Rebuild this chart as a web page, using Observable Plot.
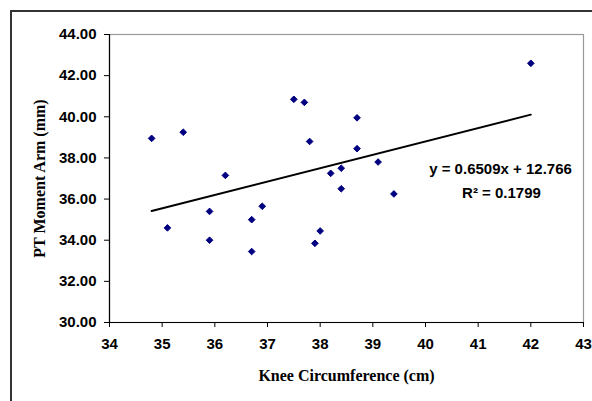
<!DOCTYPE html>
<html><head><meta charset="utf-8">
<script src="https://cdn.jsdelivr.net/npm/d3@7"></script>
<script src="https://cdn.jsdelivr.net/npm/@observablehq/plot@0.6"></script>
<style>
html,body{margin:0;padding:0;background:#fff;}
#wrap{position:relative;width:592px;height:401px;overflow:hidden;background:#fff;}
#chart{position:absolute;left:0;top:0;}
#border{position:absolute;left:10px;top:10px;width:640px;height:460px;border:2px solid #333;box-sizing:border-box;pointer-events:none;}
</style></head><body>
<div id="wrap"><div id="chart"></div><div id="border"></div></div>
<script>
const knee = [34.8, 35.1, 35.4, 35.9, 35.9, 36.2, 36.7, 36.7, 36.9, 37.5, 37.7, 37.8, 37.9, 38.0, 38.2, 38.4, 38.4, 38.7, 38.7, 39.1, 39.4, 42.0];
const moment = [38.95, 34.6, 39.25, 35.4, 34.0, 37.15, 35.0, 33.45, 35.65, 40.85, 40.7, 38.8, 33.85, 34.45, 37.25, 37.5, 36.5, 39.95, 38.45, 37.8, 36.25, 42.6];
const slope = 0.6509;
const intercept = 12.766;
const rSquared = 0.1799;
const xTicks = [34, 35, 36, 37, 38, 39, 40, 41, 42, 43];
const yTicks = [30, 32, 34, 36, 38, 40, 42, 44];
const xLabel = "Knee Circumference (cm)";
const yLabel = "PT Moment Arm (mm)";

const points = knee.map((k, i) => ({x: k, y: moment[i]}));
const [x0, x1] = d3.extent(knee);
const trend = [x0, x1].map(x => ({x, y: slope * x + intercept}));
const eqText = [`y = ${slope}x + ${intercept}`];
const r2Text = [`R\u00B2 = ${rSquared}`];

const sans = "'Liberation Sans', Arial, sans-serif";
const serif = "'Liberation Serif', 'Times New Roman', serif";

const plot = Plot.plot({
  width: 592,
  height: 401,
  marginLeft: 109,
  marginRight: 9,
  marginTop: 34,
  marginBottom: 79,
  style: {fontFamily: sans, fontSize: "15px", fontWeight: "bold", color: "#000", background: "transparent"},
  x: {domain: [34, 43], ticks: xTicks},
  y: {domain: [30, 44], ticks: yTicks},
  marks: [
    Plot.frame({stroke: "#999", strokeWidth: 1.2}),
    Plot.ruleX([34], {stroke: "#000", strokeWidth: 1.2}),
    Plot.ruleY([30], {stroke: "#000", strokeWidth: 1.2}),
    Plot.axisX({ticks: xTicks, tickSize: 5, tickPadding: 11, label: null, fontWeight: "bold", fontSize: 15, fill: "#000"}),
    Plot.axisY({ticks: yTicks, tickSize: 5, tickPadding: 8, label: null, tickFormat: d3.format(".2f"), fontWeight: "bold", fontSize: 15, fill: "#000"}),
    Plot.line(trend, {x: "x", y: "y", stroke: "#000", strokeWidth: 2}),
    Plot.dot(points, {x: "x", y: "y", symbol: "diamond2", r: 3, fill: "#000080", stroke: "#000080", strokeWidth: 1}),
    Plot.text(eqText, {frameAnchor: "top-left", dx: 391, dy: 129, text: d => d, textAnchor: "middle", fontSize: 15, fontWeight: "bold", fontFamily: sans, fill: "#000"}),
    Plot.text(r2Text, {frameAnchor: "top-left", dx: 392, dy: 153, text: d => d, textAnchor: "middle", fontSize: 15, fontWeight: "bold", fontFamily: sans, fill: "#000"}),
    Plot.text([xLabel], {frameAnchor: "bottom", dy: 58, text: d => d, textAnchor: "middle", fontSize: 16, fontWeight: "bold", fontFamily: serif, fill: "#000"}),
    Plot.text([yLabel], {frameAnchor: "left", dx: -70, rotate: -90, text: d => d, textAnchor: "middle", fontSize: 16, fontWeight: "bold", fontFamily: serif, fill: "#000"})
  ]
});
document.getElementById("chart").appendChild(plot);
</script>
</body></html>
